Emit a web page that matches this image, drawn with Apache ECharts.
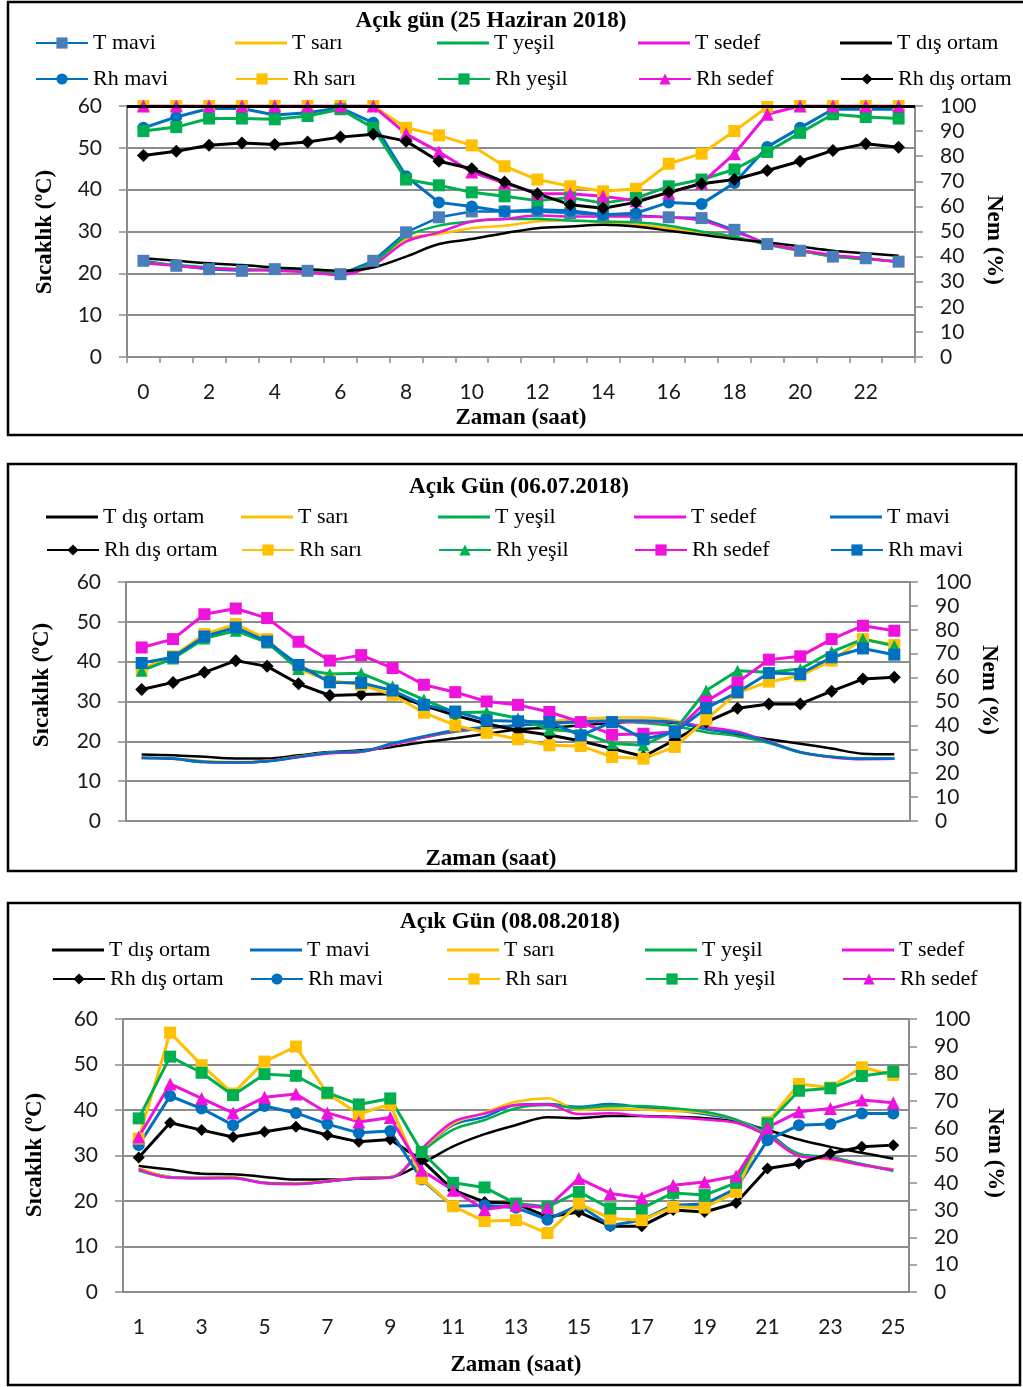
<!DOCTYPE html>
<html><head><meta charset="utf-8">
<script src="https://cdn.jsdelivr.net/npm/echarts@6/dist/echarts.min.js"></script>
<style>html,body{margin:0;padding:0;background:#fff}#c{width:1023px;height:1387px}</style>
</head><body><div id="c"></div><script>
// ---------- Panel 1: Açık gün (25 Haziran 2018) ----------
const p1_hours = ['0','1','2','3','4','5','6','7','8','9','10','11','12','13','14','15','16','17','18','19','20','21','22','23'];
const p1_T_mavi  = [23.0,21.8,21.0,20.6,21.0,20.6,19.8,23.0,29.8,33.4,34.8,34.8,34.8,34.4,34.0,33.8,33.4,33.2,30.4,27.0,25.4,24.0,23.6,22.8];
const p1_T_sari  = [22.6,21.9,21.3,21.0,20.8,20.5,20.0,22.4,28.2,29.4,30.8,31.4,32.4,32.6,32.2,31.6,30.8,29.8,28.6,26.9,25.4,24.0,23.4,22.8];
const p1_T_yesil = [22.6,22.0,21.4,21.0,20.8,20.6,20.0,22.6,28.8,31.4,32.4,33.0,33.0,32.6,32.4,32.2,31.4,30.0,28.8,26.8,25.4,24.0,23.4,22.8];
const p1_T_sedef = [22.4,21.8,21.2,20.9,20.6,20.3,19.6,22.0,27.6,29.8,32.4,33.0,33.8,33.6,33.6,33.6,33.4,32.6,30.0,27.2,25.6,24.4,23.6,22.6];
const p1_T_dis   = [23.6,23.0,22.4,22.0,21.4,21.0,20.6,21.4,24.0,27.0,28.2,29.6,30.8,31.2,31.6,31.2,30.2,29.2,28.2,27.4,26.4,25.4,24.8,24.2];
const p1_Rh_mavi  = [91.3,95.6,99.0,99.0,96.4,97.3,99.3,93.3,72.0,61.6,60.0,58.0,58.7,58.3,56.7,57.3,61.6,61.0,69.3,83.7,91.3,98.7,98.7,98.7];
const p1_Rh_sari  = [100,100,100,100,100,100,100,100,91.3,88.3,84.3,76.0,70.7,68.0,66.0,67.0,77.0,81.0,90.0,99.6,100,100,100,100];
const p1_Rh_yesil = [90.0,91.6,95.0,95.0,94.7,96.0,98.7,91.3,70.7,68.4,65.6,64.0,62.3,63.5,61.3,63.3,68.0,70.7,74.7,81.7,89.3,96.7,95.6,95.0];
const p1_Rh_sedef = [100,100,100,100,100,100,100,100,88.9,81.7,73.7,69.3,65.0,65.0,64.0,62.3,65.3,69.3,81.0,96.7,100,100,100,100];
const p1_Rh_dis   = [80.3,82.0,84.4,85.3,84.7,85.7,87.6,88.7,86.0,78.0,75.0,69.7,65.0,60.7,59.3,61.6,65.7,69.0,70.7,74.3,78.0,82.3,85.0,83.6];

// ---------- Panel 2: Açık Gün (06.07.2018) ----------
const p2_hours = ['1','2','3','4','5','6','7','8','9','10','11','12','13','14','15','16','17','18','19','20','21','22','23','24','25'];
const p2_T_dis   = [16.7,16.5,16.1,15.7,15.7,16.5,17.3,17.75,18.6,19.8,20.8,21.9,23.0,23.4,24.0,24.6,25.0,24.6,23.2,21.7,20.5,19.4,18.2,16.9,16.75];
const p2_T_sari  = [15.9,15.7,15.0,14.8,15.1,16.2,17.2,17.5,19.2,21.0,22.6,23.5,24.0,25.0,25.6,26.0,26.0,25.2,23.3,22.3,19.8,17.2,16.1,15.7,15.7];
const p2_T_yesil = [15.9,15.7,14.9,14.7,15.0,16.1,17.1,17.4,19.3,21.0,22.4,23.2,24.0,24.4,24.8,24.9,24.6,23.8,22.3,21.3,19.6,17.2,16.1,15.7,15.7];
const p2_T_sedef = [15.8,15.6,14.8,14.7,15.0,16.0,17.0,17.4,19.2,21.0,22.6,23.4,24.0,24.6,24.9,25.0,25.0,24.8,23.6,22.4,19.9,17.3,16.0,15.5,15.6];
const p2_T_mavi  = [15.8,15.6,14.8,14.7,15.0,16.1,17.2,17.5,19.5,21.3,22.8,23.6,24.0,24.6,25.0,25.2,25.2,24.8,23.0,22.0,19.8,17.3,16.1,15.6,15.6];
const p2_Rh_dis   = [55.0,58.0,62.2,67.1,64.7,57.4,52.5,52.9,53.2,48.3,44.2,40.7,37.9,36.0,33.5,30.3,27.0,33.9,41.4,47.2,49.0,49.0,54.3,59.4,60.1];
const p2_Rh_sari  = [63.6,68.9,78.2,82.4,76.1,63.6,58.75,57.0,52.8,45.3,40.0,36.9,34.2,31.7,31.4,26.8,26.1,31.0,42.5,53.6,58.3,60.8,67.1,76.1,73.6];
const p2_Rh_yesil = [62.9,68.0,76.4,79.6,74.7,63.6,61.5,61.8,56.4,50.8,45.3,45.6,43.0,38.3,37.2,32.4,31.7,37.9,54.6,62.9,62.2,63.6,70.8,76.1,73.3];
const p2_Rh_sedef = [72.6,76.1,86.5,88.9,84.9,75.0,67.1,69.4,64.0,57.0,53.9,50.0,48.6,45.6,41.4,36.1,36.5,37.2,50.0,58.0,67.5,68.9,76.1,81.7,79.6];
const p2_Rh_mavi  = [66.1,68.5,77.2,81.0,75.1,65.3,58.0,57.8,54.6,48.6,45.8,42.1,41.7,41.4,35.8,41.4,34.2,37.2,47.2,53.9,61.9,61.5,68.5,72.2,69.6];

// ---------- Panel 3: Açık Gün (08.08.2018) ----------
const p3_hours = ['1','2','3','4','5','6','7','8','9','10','11','12','13','14','15','16','17','18','19','20','21','22','23','24','25'];
const p3_T_dis   = [27.7,26.9,26.0,25.9,25.3,24.7,24.7,24.9,25.2,28.2,32.0,34.7,36.7,38.4,38.2,38.7,38.7,38.5,38.2,37.4,35.6,33.5,31.9,30.6,29.3];
const p3_T_mavi  = [27.0,25.3,25.0,25.1,24.0,23.8,24.3,25.0,25.2,31.0,36.7,38.5,41.1,41.3,40.7,41.3,40.6,40.0,39.1,37.8,35.0,30.3,29.7,28.1,26.9];
const p3_T_sari  = [27.3,25.3,25.1,25.2,24.0,23.9,24.4,25.1,25.3,31.2,37.0,39.4,41.8,42.6,40.0,40.4,40.1,39.8,39.4,37.9,34.5,30.1,29.1,27.9,26.9];
const p3_T_yesil = [26.7,25.2,25.1,25.1,24.0,23.8,24.3,25.0,25.2,30.8,35.7,37.8,40.4,41.1,40.4,40.9,40.9,40.4,39.6,37.9,34.3,30.4,29.5,28.1,26.6];
const p3_T_sedef = [27.0,25.1,25.0,25.0,23.9,23.7,24.3,25.0,25.1,31.5,37.4,39.2,41.1,41.2,39.1,39.3,38.7,38.4,37.9,37.2,34.3,29.9,29.3,27.9,26.8];
const p3_Rh_dis   = [49.3,62.0,59.3,56.8,58.7,60.5,57.5,55.0,55.9,48.3,37.3,33.0,32.4,27.5,29.3,24.1,24.1,30.0,29.3,32.6,45.2,47.1,50.7,53.2,53.8];
const p3_Rh_mavi  = [53.8,71.8,67.2,61.1,68.1,65.6,61.5,58.3,59.0,41.2,31.4,31.8,30.9,26.5,31.8,24.4,26.3,31.8,32.2,37.9,55.6,61.1,61.5,65.4,65.4];
const p3_Rh_sari  = [56.2,95.0,83.1,72.7,84.4,89.9,72.7,65.2,68.8,41.6,31.4,26.0,26.3,21.6,32.4,26.9,26.3,31.2,30.9,36.7,62.3,76.2,74.9,82.3,79.5];
const p3_Rh_yesil = [63.6,86.2,80.3,72.1,79.8,79.2,73.0,68.7,70.9,51.3,40.0,38.3,32.4,31.2,36.7,30.6,30.6,36.3,35.5,40.0,61.7,73.7,74.6,79.1,80.7];
const p3_Rh_sedef = [56.8,76.2,70.9,65.6,71.3,72.5,65.6,62.3,63.9,44.6,37.3,30.2,31.8,30.9,41.6,36.1,34.5,39.1,40.3,42.5,60.3,66.0,67.2,70.3,69.3];

const titles = ['Açık gün (25 Haziran 2018)', 'Açık Gün (06.07.2018)', 'Açık Gün (08.08.2018)'];

// ---------- styling ----------
const C = {mavi:'#0070C0', maviSq:'#4A7EBB', sari:'#FFC000', yesil:'#00B050', sedef:'#EE12DC', dis:'#000000'};
const GRID_C = '#8C8C8C';
const SERIF = "'Liberation Serif','Times New Roman',serif";
const SANS = "Lato,'Liberation Sans',sans-serif";

function tLine(name, data, gi, color, extra) {
  return Object.assign({
    type:'line', name: name + '#' + gi, data: data, xAxisIndex: gi, yAxisIndex: gi*2,
    symbol:'none', smooth:0.35, lineStyle:{color:color, width:2.5}, itemStyle:{color:color},
    animation:false, z:2
  }, extra || {});
}
function rhLine(name, data, gi, color, symbol, size) {
  return {
    type:'line', name: name + '#' + gi, data: data, xAxisIndex: gi, yAxisIndex: gi*2+1,
    symbol: symbol, symbolSize: size, showSymbol:true, smooth:false,
    lineStyle:{color:color, width:3}, itemStyle:{color:color}, animation:false, z:3
  };
}

const series = [
  // panel 1
  tLine('T mavi', p1_T_mavi, 0, C.mavi, {symbol:'rect', symbolSize:12, smooth:false, itemStyle:{color:C.maviSq}}),
  tLine('T sarı', p1_T_sari, 0, C.sari),
  tLine('T yeşil', p1_T_yesil, 0, C.yesil),
  tLine('T sedef', p1_T_sedef, 0, C.sedef),
  tLine('T dış ortam', p1_T_dis, 0, C.dis, {markLine:{silent:true, symbol:'none', label:{show:false}, lineStyle:{color:'#000', width:3, type:'solid'}, data:[{yAxis:60}]}}),
  rhLine('Rh mavi', p1_Rh_mavi, 0, C.mavi, 'circle', 12),
  rhLine('Rh sarı', p1_Rh_sari, 0, C.sari, 'rect', 12),
  rhLine('Rh yeşil', p1_Rh_yesil, 0, C.yesil, 'rect', 12),
  rhLine('Rh sedef', p1_Rh_sedef, 0, C.sedef, 'triangle', 13),
  rhLine('Rh dış ortam', p1_Rh_dis, 0, C.dis, 'diamond', 13),
  // panel 2
  tLine('T dış ortam', p2_T_dis, 1, C.dis),
  tLine('T sarı', p2_T_sari, 1, C.sari),
  tLine('T yeşil', p2_T_yesil, 1, C.yesil),
  tLine('T sedef', p2_T_sedef, 1, C.sedef),
  tLine('T mavi', p2_T_mavi, 1, C.mavi),
  rhLine('Rh dış ortam', p2_Rh_dis, 1, C.dis, 'diamond', 13),
  rhLine('Rh sarı', p2_Rh_sari, 1, C.sari, 'rect', 12),
  rhLine('Rh yeşil', p2_Rh_yesil, 1, C.yesil, 'triangle', 12),
  rhLine('Rh sedef', p2_Rh_sedef, 1, C.sedef, 'rect', 12),
  rhLine('Rh mavi', p2_Rh_mavi, 1, C.mavi, 'rect', 12),
  // panel 3
  tLine('T dış ortam', p3_T_dis, 2, C.dis),
  tLine('T mavi', p3_T_mavi, 2, C.mavi),
  tLine('T sarı', p3_T_sari, 2, C.sari),
  tLine('T yeşil', p3_T_yesil, 2, C.yesil),
  tLine('T sedef', p3_T_sedef, 2, C.sedef),
  rhLine('Rh dış ortam', p3_Rh_dis, 2, C.dis, 'diamond', 12),
  rhLine('Rh mavi', p3_Rh_mavi, 2, C.mavi, 'circle', 12),
  rhLine('Rh sarı', p3_Rh_sari, 2, C.sari, 'rect', 12),
  rhLine('Rh yeşil', p3_Rh_yesil, 2, C.yesil, 'rect', 12),
  rhLine('Rh sedef', p3_Rh_sedef, 2, C.sedef, 'triangle', 13)
];

// legends (one per item to reproduce column layout)
const legendRows = [
  {gi:0, rows:[['T mavi','T sarı','T yeşil','T sedef','T dış ortam'],['Rh mavi','Rh sarı','Rh yeşil','Rh sedef','Rh dış ortam']], xs:[35,235,437,638,840], ys:[44,80]},
  {gi:1, rows:[['T dış ortam','T sarı','T yeşil','T sedef','T mavi'],['Rh dış ortam','Rh sarı','Rh yeşil','Rh sedef','Rh mavi']], xs:[46,241,438,634,830], ys:[518,551]},
  {gi:2, rows:[['T dış ortam','T mavi','T sarı','T yeşil','T sedef'],['Rh dış ortam','Rh mavi','Rh sarı','Rh yeşil','Rh sedef']], xs:[52,250,447,645,842], ys:[951,980]}
];
const LINE_ICON = 'path://M0,0L52,0L52,3L0,3Z';
const legends = [];
legendRows.forEach(function(L){
  L.rows.forEach(function(row, r){
    row.forEach(function(nm, k){
      const plainLine = (r === 0) && !(L.gi === 0 && nm === 'T mavi');
      const item = plainLine ? {name: nm + '#' + L.gi, icon: LINE_ICON} : {name: nm + '#' + L.gi};
      legends.push({
        left: L.xs[k], top: L.ys[r] - 12, padding:0, itemGap:0,
        data:[item], itemWidth:52, itemHeight:14, selectedMode:false,
        formatter: function(n){ return n.split('#')[0]; },
        textStyle:{fontFamily:SERIF, fontSize:22, color:'#000', padding:[2,0,0,0]}
      });
    });
  });
});

const grids = [
  {left:127, top:106, width:788, height:251},
  {left:126, top:582, width:784, height:239},
  {left:123, top:1019, width:786, height:273}
];
const cats = [p1_hours, p2_hours, p3_hours];
const xAxes = cats.map(function(c, i){
  return {
    type:'category', gridIndex:i, data:c, boundaryGap:true,
    axisLine:{lineStyle:{color:GRID_C, width:2}},
    axisTick:{show: i===0, interval:0, length:6, lineStyle:{color:GRID_C, width:1.5}},
    axisLabel:{show: i!==1, interval:1, margin:25, fontFamily:SANS, fontSize:21, color:'#1a1a1a'}
  };
});
const yAxes = [];
for (let i=0;i<3;i++){
  yAxes.push({
    type:'value', gridIndex:i, position:'left', min:0, max:60, interval:10,
    axisLine:{show:true, lineStyle:{color:GRID_C, width:2}},
    axisTick:{show:true, length:8, lineStyle:{color:GRID_C, width:1.5}},
    splitLine:{show:true, lineStyle:{color:GRID_C, width:2}},
    axisLabel:{margin:25, fontFamily:SANS, fontSize:21, color:'#1a1a1a'}
  });
  yAxes.push({
    type:'value', gridIndex:i, position:'right', min:0, max:100, interval:10,
    axisLine:{show:true, lineStyle:{color:GRID_C, width:2}},
    axisTick:{show:true, length:8, lineStyle:{color:GRID_C, width:1.5}},
    splitLine:{show:false},
    axisLabel:{margin:25, fontFamily:SANS, fontSize:21, color:'#1a1a1a'}
  });
}

function txt(x, y, text, size, rot) {
  return {type:'text', x:x, y:y, rotation: rot||0, silent:true,
    style:{text:text, font:'bold '+size+'px '+SERIF, fill:'#000', textAlign:'center', textVerticalAlign:'middle'}};
}
function box(x, y, w, h) {
  return {type:'rect', silent:true, shape:{x:x, y:y, width:w, height:h}, style:{fill:'none', stroke:'#000', lineWidth:2.5}};
}
const graphics = [
  box(8, 2, 1030, 433), box(8, 464, 1008, 407), box(8, 903, 1012, 482),
  txt(491, 21, titles[0], 23), txt(519, 487, titles[1], 23), txt(510, 922, titles[2], 23),
  txt(521, 418, 'Zaman (saat)', 23), txt(491, 859, 'Zaman (saat)', 23), txt(516, 1365, 'Zaman (saat)', 23),
  txt(45, 232, 'Sıcaklık (ºC)', 23, Math.PI/2), txt(42, 685, 'Sıcaklık (ºC)', 23, Math.PI/2), txt(35, 1155, 'Sıcaklık (ºC)', 23, Math.PI/2),
  txt(994, 240, 'Nem (%)', 23, -Math.PI/2), txt(989, 690, 'Nem (%)', 23, -Math.PI/2), txt(995, 1153, 'Nem (%)', 23, -Math.PI/2)
];

const chart = echarts.init(document.getElementById('c'), null, {renderer:'canvas'});
chart.setOption({
  backgroundColor:'#ffffff', animation:false,
  grid: grids, xAxis: xAxes, yAxis: yAxes, legend: legends, series: series,
  graphic: graphics
});
</script></body></html>
